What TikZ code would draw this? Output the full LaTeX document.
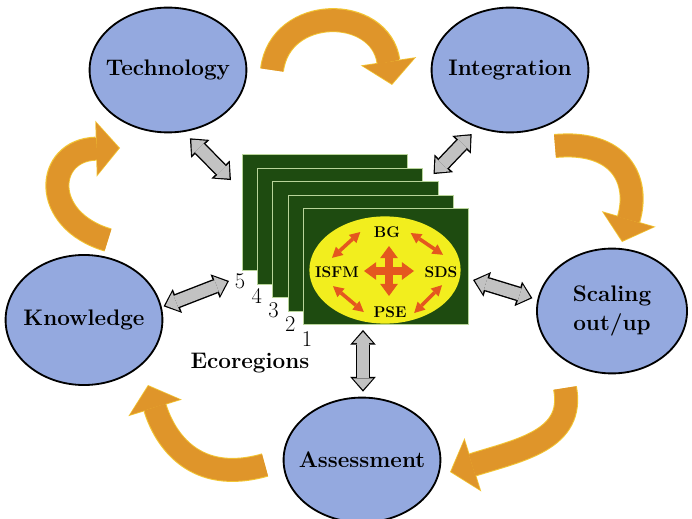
\documentclass[tikz,border=0pt]{standalone}
\usepackage{fontspec}
\usepackage{xcolor}
\usepackage{tikz}
\usetikzlibrary{shapes.geometric,arrows.meta,positioning,calc}
\definecolor{EllipseBlue}{HTML}{94A9DF}
\definecolor{LayerGreen}{HTML}{1E4B10}
\definecolor{LayerEdge}{HTML}{B9D49A}
\definecolor{CoreYellow}{HTML}{F2EE1E}
\definecolor{CrossRed}{HTML}{E4571F}
\definecolor{RibbonOrange}{HTML}{DF952A}
\definecolor{RibbonEdge}{HTML}{F2C534}
\definecolor{LinkGrey}{HTML}{C2C2C2}
\tikzset{
  % Theme ellipse
  EL/.style={ellipse,draw=black,line width=1.3pt,fill=EllipseBlue,
             minimum width=3.92cm,minimum height=3.12cm,inner sep=0pt},
  TL/.style={text centered,align=center,inner sep=0pt,
             font=\fontsize{16}{20}\selectfont\bfseries},
  % Ecoregion layer
  LY/.style={rectangle,draw=LayerEdge,line width=0.6pt,fill=LayerGreen,
             minimum width=4.13cm,minimum height=2.9cm,inner sep=0pt},
  % Label styles
  CL/.style={font=\fontsize{11}{13}\selectfont\bfseries,inner sep=1pt},
  NL/.style={font=\fontsize{16}{18}\selectfont,inner sep=0pt},
  % Arrows
  ribbon/.style={draw=RibbonOrange,line width=0.55cm,shorten >=0.03cm,
                 -{Triangle[length=0.55cm,width=1.3cm,line width=0pt]},
                 preaction={draw=RibbonEdge,line width=0.6cm,shorten >=0pt,
                   -{Triangle[length=0.6cm,width=1.4cm,line width=0pt]}}},
  link/.style={draw=LinkGrey,line width=0.3cm,
               shorten <=0.05cm,shorten >=0.05cm,
               {Triangle[length=0.28cm,width=0.5cm,line width=0pt]}-{Triangle[length=0.28cm,width=0.5cm,line width=0pt]},
               preaction={draw=black,line width=0.37cm,shorten <=0pt,shorten >=0pt,
                 {Triangle[length=0.37cm,width=0.64cm,line width=0pt]}-{Triangle[length=0.37cm,width=0.64cm,line width=0pt]}}},
  redarr/.style={draw=CrossRed,line width=0.09cm,
                 {Triangle[length=0.26cm,width=0.28cm,line width=0pt]}-{Triangle[length=0.26cm,width=0.28cm,line width=0pt]}},
  crossarr/.style={draw=CrossRed,line width=0.2cm,
                   {Triangle[length=0.3cm,width=0.44cm,line width=0pt]}-{Triangle[length=0.3cm,width=0.44cm,line width=0pt]}}
}
\begin{document}
\begin{tikzpicture}[x=0.025cm,y=-0.025cm]
  \useasboundingbox (0,0) rectangle (692,519);
  % Themes
  \node[EL,label={[TL]center:Technology}] (tech)   at (168,70)  {};
  \node[EL,label={[TL]center:Integration}] (integ) at (510,70)  {};
  \node[EL,minimum width=3.75cm,label={[TL]center:Scaling\\out/up}] (scale) at (612,311) {};
  \node[EL,minimum height=3.25cm,label={[TL]center:Knowledge}] (know) at (84,320) {};
  \node[EL,label={[TL]center:Assessment}] (assess) at (362,460) {};
  % Cycle ribbons
  \draw[ribbon] ([shift={(104,0)}]tech.center) .. controls +(8,-65) and +(-12,-80) .. ([shift={(-118,15)}]integ.center);
  \draw[ribbon] ([shift={(45,76)}]integ.center) .. controls +(65,-6) and +(18,-62) .. ([shift={(10,-69)}]scale.center);
  \draw[ribbon] ([shift={(-47,77)}]scale.center) .. controls +(10,52) and +(70,-22) .. ([shift={(88,12)}]assess.center);
  \draw[ribbon] ([shift={(-97,5)}]assess.center) .. controls +(-70,20) and +(17,55) .. ([shift={(64,65)}]know.center);
  \draw[ribbon] ([shift={(24,-80)}]know.center) .. controls +(-68,-20) and +(-75,2) .. ([shift={(-48,78)}]tech.center);
  % Ecoregion stack
  \foreach \i in {5,4,...,1}{
    \node[LY] (layer\i) at ({386-15.25*(\i-1)},{266.5-13.5*(\i-1)}) {};
    \node[NL] (num\i) at ({240+16.75*(5-\i)},{281+14.5*(5-\i)}) {\i};
  }
  \node[ellipse,fill=CoreYellow,minimum width=3.78cm,minimum height=2.68cm] (core) at (385,270) {};
  \node[CL] (bg)   at (387,232) {BG};
  \node[CL] (isfm) at (337,272) {ISFM};
  \node[CL] (sds)  at (441,272) {SDS};
  \node[CL] (pse)  at (390,312) {PSE};
  \draw[redarr] ([shift={(-12,0)}]bg.west) -- ([shift={(-5,-7)}]isfm.north);
  \draw[redarr] ([shift={(9,1)}]bg.east) -- ([shift={(2,-10)}]sds.north);
  \draw[redarr] ([shift={(-4,7)}]isfm.south) -- ([shift={(-8,0)}]pse.west);
  \draw[redarr] ([shift={(1,6)}]sds.south) -- ([shift={(6,1)}]pse.east);
  \coordinate (hub) at (389,271);
  \draw[crossarr] ([shift={(-25,0)}]hub) -- ([shift={(25,0)}]hub);
  \draw[crossarr] ([shift={(0,-25)}]hub) -- ([shift={(0,25)}]hub);
  \node[font=\fontsize{16}{18}\selectfont\bfseries] (eco) at (250,363) {Ecoregions};
  % Links to the stack
  \draw[link] ([shift={(2,7)}]tech.-72) -- ([shift={(-11,26)}]layer5.north west);
  \draw[link] ([shift={(-4,7)}]integ.-121) -- ([shift={(-5,-7)}]layer3.north east);
  \draw[link] ([shift={(2,0)}]know.10) -- ([shift={(-13,10)}]layer5.south west);
  \draw[link] ([shift={(4,13.5)}]layer1.east) -- ([shift={(-5,-1)}]scale.171);
  \draw[link] ([shift={(-23,5)}]layer1.south) -- ([shift={(1,-5)}]assess.north);
\end{tikzpicture}
\end{document}
